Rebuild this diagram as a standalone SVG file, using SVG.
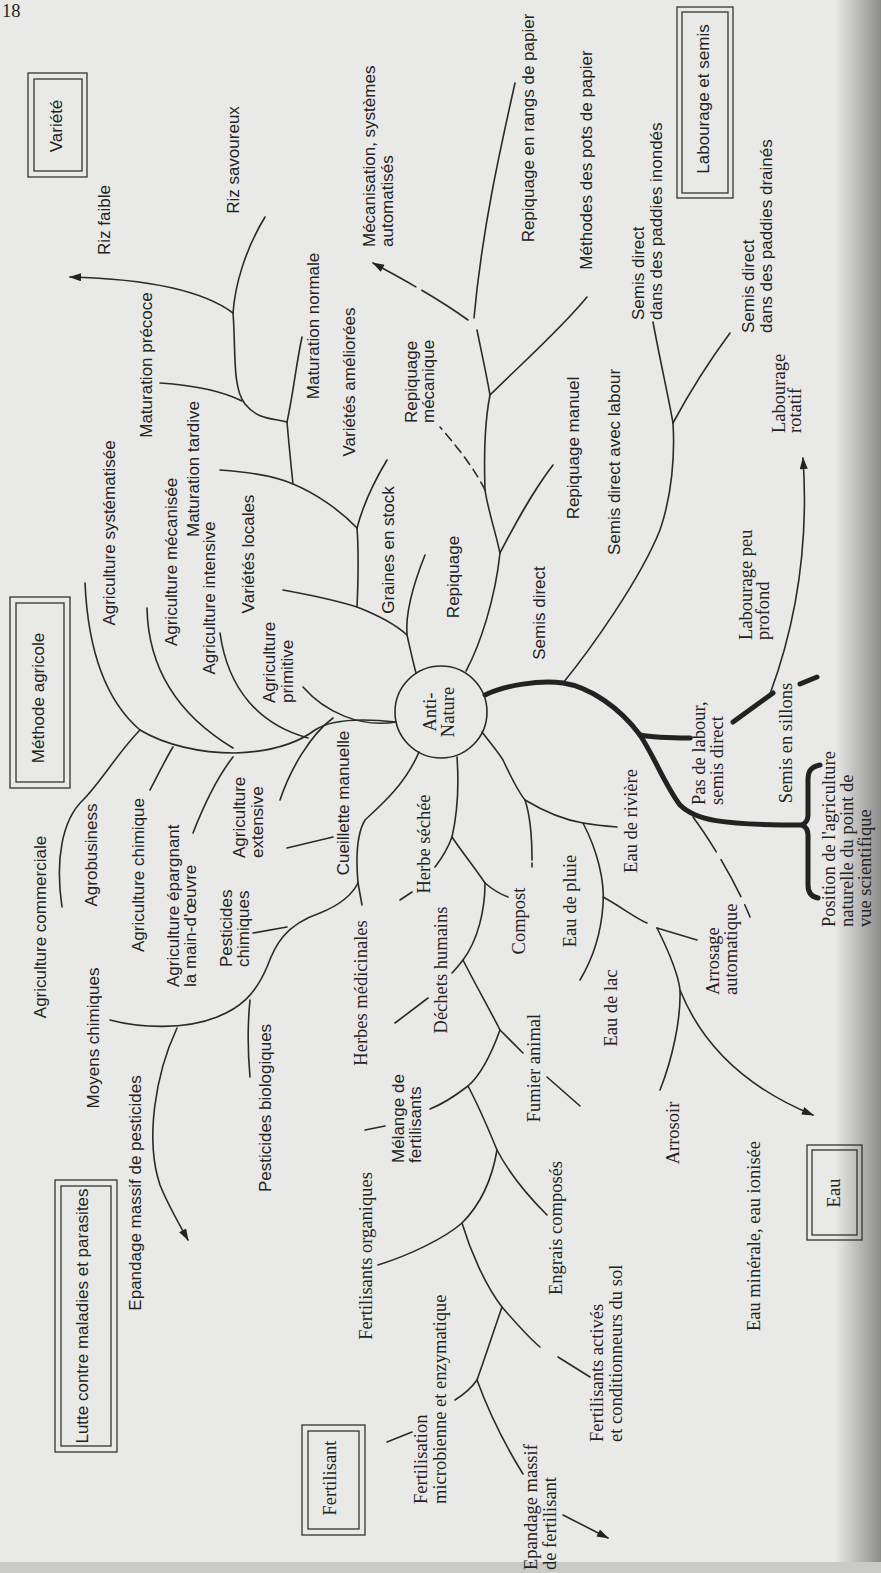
<svg xmlns="http://www.w3.org/2000/svg" width="881" height="1573" viewBox="0 0 881 1573">
<defs>
<style>
.s{font-family:"Liberation Sans",Arial,sans-serif;font-size:17px;fill:#222}
.r{font-family:"Liberation Serif","Times New Roman",serif;font-size:18.5px;fill:#222}
.m{text-anchor:middle}
.ln{fill:none;stroke:#2a2a2a;stroke-width:1.6;stroke-linecap:round}
.th{fill:none;stroke:#222;stroke-width:5;stroke-linecap:round;stroke-linejoin:round}
.bx{fill:none;stroke:#333;stroke-width:1.3}
.d1{stroke-dasharray:55 7}
.d2{stroke-dasharray:9 6}
.d3{stroke-dasharray:42 9}
</style>
<marker id="ah" viewBox="0 0 12 8" refX="11" refY="4" markerWidth="13" markerHeight="8" markerUnits="userSpaceOnUse" orient="auto">
<path d="M0,0 L12,4 L0,8 z" fill="#222"/>
</marker>
<linearGradient id="edge" x1="0" y1="0" x2="1" y2="0">
<stop offset="0" stop-color="#000" stop-opacity="0"/>
<stop offset="1" stop-color="#000" stop-opacity="0.4"/>
</linearGradient>
</defs>
<rect width="881" height="1573" fill="#e9e9e7"/>
<rect x="835" y="0" width="46" height="1573" fill="url(#edge)"/>
<rect x="0" y="1562" width="881" height="11" fill="#cacac8"/>
<text class="r" x="2" y="17" font-size="22">18</text>

<g id="connectors">
<path class="ln" d="M233,313 C205,292 150,279 70,277" marker-end="url(#ah)"/>
<path class="ln" d="M265,217 C245,250 235,285 233,313"/>
<path class="ln" d="M233,313 C236,350 232,388 245,404 S272,418 287,422"/>
<path class="ln" d="M160,383 C190,385 220,390 242,401"/>
<path class="ln" d="M302,337 C296,365 293,395 287,422"/>
<path class="ln" d="M287,422 C289,445 291,465 293,484"/>
<path class="ln" d="M220,470 C250,472 275,476 293,484 C315,493 340,510 357,528"/>
<path class="ln" d="M387,460 C375,480 363,505 357,528"/>
<path class="ln" d="M357,528 C359,555 358,585 357,607"/>
<path class="ln" d="M283,590 C305,594 335,600 357,607 C375,614 395,624 407,635"/>
<path class="ln" d="M407,635 C410,648 413,662 416,673"/>
<path class="ln" d="M425,555 C415,580 405,610 407,635"/>
<path class="ln" d="M85,583 C88,650 105,700 140,730"/>
<path class="ln" d="M147,608 C148,660 170,710 233,748"/>
<path class="ln" d="M220,633 C228,690 260,725 308,738"/>
<path class="ln" d="M303,687 C325,712 360,728 396,722"/>
<path class="ln" d="M140,730 C165,745 200,753 235,753 C265,752 295,745 315,730 C330,720 360,718 396,722"/>
<path class="ln" d="M62,907 C55,860 62,820 83,800 C100,783 120,750 140,730"/>
<path class="ln" d="M150,790 C158,775 165,760 173,747"/>
<path class="ln" d="M193,833 C200,815 215,780 233,757"/>
<path class="ln" d="M280,800 C290,770 310,735 333,718"/>
<path class="ln" d="M287,848 L333,837"/>
<path class="ln" d="M110,1020 C140,1028 185,1030 217,1017 C240,1008 255,995 267,967 C275,945 285,925 320,913 C340,905 352,895 358,883"/>
<path class="ln" d="M177,1028 C155,1075 145,1140 160,1185 C168,1205 178,1222 188,1240" marker-end="url(#ah)"/>
<path class="ln" d="M250,1000 C247,1030 248,1055 250,1077"/>
<path class="ln" d="M253,933 L287,927"/>
<path class="ln" d="M358,883 C356,860 356,835 365,820 C380,806 405,785 419,752"/>
<path class="ln" d="M358,883 L362,905"/>
<path class="ln" d="M400,900 L412,892"/>
<path class="ln" d="M395,1023 L428,998"/>
<path class="ln" d="M457,757 C459,785 457,815 452,837"/>
<path class="ln" d="M452,837 C448,848 442,858 435,867"/>
<path class="ln" d="M452,837 C462,852 475,868 485,883 C493,890 500,894 508,897"/>
<path class="ln" d="M485,883 C485,910 478,940 463,960 C474,982 490,1010 500,1030"/>
<path class="ln" d="M463,960 C459,965 456,969 452,973"/>
<path class="ln" d="M500,1030 C510,1040 517,1047 523,1053"/>
<path class="ln" d="M500,1030 C492,1052 482,1074 468,1086 C455,1096 443,1104 430,1109"/>
<path class="ln" d="M468,1086 C478,1105 488,1128 497,1150 C510,1175 530,1198 547,1215"/>
<path class="ln" d="M497,1150 C492,1180 480,1205 462,1223 C445,1238 410,1255 378,1265"/>
<path class="ln" d="M462,1223 C470,1250 485,1285 502,1307 C515,1322 528,1337 540,1347"/>
<path class="ln" d="M558,1357 L590,1377"/>
<path class="ln" d="M502,1307 C494,1330 486,1355 477,1380 C470,1390 463,1395 455,1400"/>
<path class="ln" d="M477,1380 C488,1410 505,1445 523,1474"/>
<path class="ln" d="M563,1515 L608,1538" marker-end="url(#ah)"/>
<path class="ln" d="M365,1130 L385,1126"/>
<path class="ln" d="M387,1442 L412,1432"/>
<path class="ln" d="M547,1077 L580,1106"/>
<path class="ln" d="M482,732 C492,745 498,752 503,760 C510,775 517,790 525,800 C545,812 565,820 583,823 C595,825 605,826 617,827"/>
<path class="ln" d="M525,800 C530,815 532,835 532,860"/>
<path class="ln" d="M532,863 L532,867"/>
<path class="ln" d="M583,823 C597,850 605,880 603,905 C601,935 592,960 580,980"/>
<path class="ln" d="M603,897 C620,906 635,918 647,923"/>
<path class="ln" d="M657,928 L697,940"/>
<path class="ln" d="M657,928 C668,950 678,972 680,990 C681,1020 672,1060 660,1090"/>
<path class="ln" d="M680,990 C700,1040 740,1085 813,1115" marker-end="url(#ah)"/>
<path class="ln d3" d="M693,817 C710,840 735,880 750,917"/>
<path class="th" d="M485,695 C505,685 540,680 563,683 C590,687 620,708 640,735 C655,758 665,785 680,805 C695,820 720,825 803,825"/>
<path class="th" d="M640,735 C655,738 670,738 690,738"/>
<path class="th" stroke-width="4" d="M820,765 C810,767 808,772 808,780 L808,815 C808,820 806,823 802,825 C806,827 808,830 808,835 L808,885 C808,893 812,897 818,898"/>
<path class="th" d="M733,722 L773,693"/>
<path class="th" d="M800,684 L817,677"/>
<path class="ln" d="M770,694 C790,640 810,560 803,458" marker-end="url(#ah)"/>
<path class="ln" d="M563,683 C590,650 640,580 660,530 C672,495 675,455 673,423"/>
<path class="ln" d="M673,423 C668,395 660,360 653,322"/>
<path class="ln" d="M673,423 C688,395 710,360 730,333"/>
<path class="ln" d="M466,671 C480,645 495,600 500,553"/>
<path class="ln" d="M500,553 C512,530 530,495 553,465"/>
<path class="ln" d="M500,553 C495,530 488,510 485,490"/>
<path class="ln d2" d="M485,490 C475,470 460,450 440,427"/>
<path class="ln" d="M485,490 C484,460 484,425 490,395"/>
<path class="ln" d="M490,395 C520,365 560,330 587,297"/>
<path class="ln" d="M477,330 C481,350 486,372 490,395"/>
<path class="ln" d="M515,83 C500,150 482,230 474,318"/>
<path class="ln d1" d="M468,320 C440,300 410,283 373,263" marker-end="url(#ah)"/>
</g>

<g id="center">
<circle cx="441" cy="712" r="46" fill="none" stroke="#2a2a2a" stroke-width="1.6"/>
<text class="r m" transform="translate(436,712) rotate(-90)"><tspan x="0" y="0">Anti-</tspan><tspan x="0" y="18">Nature</tspan></text>
</g>

<g id="box-variete">
<rect class="bx" x="28" y="73" width="59" height="104"/>
<rect class="bx" x="34" y="79" width="48" height="92"/>
<text class="s m" transform="translate(62,126) rotate(-90)">Variété</text>
</g>
<g id="box-labourage">
<rect class="bx" x="677" y="7" width="56" height="191"/>
<rect class="bx" x="682" y="12" width="46" height="181"/>
<text class="s m" transform="translate(709,99) rotate(-90)">Labourage et semis</text>
</g>
<g id="box-methode">
<rect class="bx" x="10" y="597" width="60" height="191"/>
<rect class="bx" x="16" y="603" width="48" height="179"/>
<text class="s m" transform="translate(44,698) rotate(-90)">Méthode agricole</text>
</g>
<g id="box-lutte">
<rect class="bx" x="55" y="1180" width="62" height="272"/>
<rect class="bx" x="61" y="1186" width="50" height="260"/>
<text class="s m" transform="translate(88,1316) rotate(-90)">Lutte contre maladies et parasites</text>
</g>
<g id="box-fertilisant">
<rect class="bx" x="302" y="1425" width="63" height="110"/>
<rect class="bx" x="308" y="1431" width="51" height="98"/>
<text class="r m" transform="translate(336,1478) rotate(-90)">Fertilisant</text>
</g>
<g id="box-eau">
<rect class="bx" x="807" y="1145" width="55" height="95"/>
<rect class="bx" x="812" y="1150" width="45" height="85"/>
<text class="r m" transform="translate(840,1193) rotate(-90)">Eau</text>
</g>

<g id="n-riz-faible"><text class="s m" transform="translate(110,220) rotate(-90)">Riz faible</text></g>
<g id="n-riz-savoureux"><text class="s m" transform="translate(239,160) rotate(-90)">Riz savoureux</text></g>
<g id="n-mecanisation"><text class="s" transform="translate(375,247) rotate(-90)"><tspan x="0" y="0">Mécanisation, systèmes</tspan><tspan x="0" y="18">automatisés</tspan></text></g>
<g id="n-mat-precoce"><text class="s m" transform="translate(152,365) rotate(-90)">Maturation précoce</text></g>
<g id="n-mat-normale"><text class="s m" transform="translate(319,326) rotate(-90)">Maturation normale</text></g>
<g id="n-var-amel"><text class="s m" transform="translate(355,382) rotate(-90)">Variétés améliorées</text></g>
<g id="n-rep-meca"><text class="s" transform="translate(417,423) rotate(-90)"><tspan x="0" y="0">Repiquage</tspan><tspan x="0" y="17">mécanique</tspan></text></g>
<g id="n-rep-rangs"><text class="s m" transform="translate(534,128) rotate(-90)">Repiquage en rangs de papier</text></g>
<g id="n-pots"><text class="s m" transform="translate(592,160) rotate(-90)">Méthodes des pots de papier</text></g>
<g id="n-inondes"><text class="s" transform="translate(644,320) rotate(-90)"><tspan x="0" y="0">Semis direct</tspan><tspan x="0" y="18">dans des paddies inondés</tspan></text></g>
<g id="n-draines"><text class="s" transform="translate(754,333) rotate(-90)"><tspan x="0" y="0">Semis direct</tspan><tspan x="0" y="18">dans des paddies drainés</tspan></text></g>
<g id="n-rotatif"><text class="r" transform="translate(785,433) rotate(-90)"><tspan x="0" y="0">Labourage</tspan><tspan x="0" y="16">rotatif</tspan></text></g>
<g id="n-peu-profond"><text class="r" transform="translate(752,640) rotate(-90)"><tspan x="0" y="0">Labourage peu</tspan><tspan x="0" y="17">profond</tspan></text></g>
<g id="n-pas-labour"><text class="r" transform="translate(705,805) rotate(-90)"><tspan x="0" y="0">Pas de labour,</tspan><tspan x="0" y="18">semis direct</tspan></text></g>
<g id="n-sillons"><text class="r m" transform="translate(792,743) rotate(-90)">Semis en sillons</text></g>
<g id="n-position"><text class="r" transform="translate(835,927) rotate(-90)"><tspan x="0" y="0">Position de l'agriculture</tspan><tspan x="0" y="18">naturelle du point de</tspan><tspan x="0" y="36">vue scientifique</tspan></text></g>
<g id="n-repiquage"><text class="s m" transform="translate(459,577) rotate(-90)">Repiquage</text></g>
<g id="n-semis-direct"><text class="s m" transform="translate(545,613) rotate(-90)">Semis direct</text></g>
<g id="n-rep-manuel"><text class="s m" transform="translate(579,448) rotate(-90)">Repiquage manuel</text></g>
<g id="n-avec-labour"><text class="s m" transform="translate(620,462) rotate(-90)">Semis direct avec labour</text></g>
<g id="n-agri-syst"><text class="s m" transform="translate(115,533) rotate(-90)">Agriculture systématisée</text></g>
<g id="n-agri-meca"><text class="s m" transform="translate(177,562) rotate(-90)">Agriculture mécanisée</text></g>
<g id="n-mat-tardive"><text class="s m" transform="translate(199,469) rotate(-90)">Maturation tardive</text></g>
<g id="n-agri-int"><text class="s m" transform="translate(215,598) rotate(-90)">Agriculture intensive</text></g>
<g id="n-var-loc"><text class="s m" transform="translate(254,554) rotate(-90)">Variétés locales</text></g>
<g id="n-agri-prim"><text class="s" transform="translate(275,703) rotate(-90)"><tspan x="0" y="0">Agriculture</tspan><tspan x="0" y="18">primitive</tspan></text></g>
<g id="n-graines"><text class="s m" transform="translate(394,550) rotate(-90)">Graines en stock</text></g>
<g id="n-cueillette"><text class="s m" transform="translate(349,803) rotate(-90)">Cueillette manuelle</text></g>
<g id="n-agri-ext"><text class="s" transform="translate(245,858) rotate(-90)"><tspan x="0" y="0">Agriculture</tspan><tspan x="0" y="18">extensive</tspan></text></g>
<g id="n-agri-comm"><text class="s m" transform="translate(46,927) rotate(-90)">Agriculture commerciale</text></g>
<g id="n-agrobusiness"><text class="s m" transform="translate(97,855) rotate(-90)">Agrobusiness</text></g>
<g id="n-agri-chim"><text class="s m" transform="translate(144,875) rotate(-90)">Agriculture chimique</text></g>
<g id="n-agri-epar"><text class="s" transform="translate(179,987) rotate(-90)"><tspan x="0" y="0">Agriculture épargnant</tspan><tspan x="0" y="17">la main-d'œuvre</tspan></text></g>
<g id="n-pest-chim"><text class="s" transform="translate(232,967) rotate(-90)"><tspan x="0" y="0">Pesticides</tspan><tspan x="0" y="17">chimiques</tspan></text></g>
<g id="n-moyens"><text class="s m" transform="translate(99,1038) rotate(-90)">Moyens chimiques</text></g>
<g id="n-epandage-pest"><text class="s m" transform="translate(141,1193) rotate(-90)">Epandage massif de pesticides</text></g>
<g id="n-pest-bio"><text class="s m" transform="translate(271,1108) rotate(-90)">Pesticides biologiques</text></g>
<g id="n-melange"><text class="s" transform="translate(404,1163) rotate(-90)"><tspan x="0" y="0">Mélange de</tspan><tspan x="0" y="17">fertilisants</tspan></text></g>
<g id="n-herbes-med"><text class="r m" transform="translate(367,993) rotate(-90)">Herbes médicinales</text></g>
<g id="n-herbe-sechee"><text class="r m" transform="translate(430,844) rotate(-90)">Herbe séchée</text></g>
<g id="n-dechets"><text class="r m" transform="translate(447,970) rotate(-90)">Déchets humains</text></g>
<g id="n-compost"><text class="r m" transform="translate(525,921) rotate(-90)">Compost</text></g>
<g id="n-fumier"><text class="r m" transform="translate(540,1068) rotate(-90)">Fumier animal</text></g>
<g id="n-riviere"><text class="r m" transform="translate(637,821) rotate(-90)">Eau de rivière</text></g>
<g id="n-pluie"><text class="r m" transform="translate(576,901) rotate(-90)">Eau de pluie</text></g>
<g id="n-lac"><text class="r m" transform="translate(617,1008) rotate(-90)">Eau de lac</text></g>
<g id="n-arrosage"><text class="r" transform="translate(719,995) rotate(-90)"><tspan x="0" y="0">Arrosage</tspan><tspan x="0" y="18">automatique</tspan></text></g>
<g id="n-arrosoir"><text class="r m" transform="translate(679,1133) rotate(-90)">Arrosoir</text></g>
<g id="n-minerale"><text class="r m" transform="translate(760,1236) rotate(-90)">Eau minérale, eau ionisée</text></g>
<g id="n-fert-org"><text class="r m" transform="translate(372,1256) rotate(-90)">Fertilisants organiques</text></g>
<g id="n-engrais"><text class="r m" transform="translate(562,1228) rotate(-90)">Engrais composés</text></g>
<g id="n-fert-act"><text class="r" transform="translate(603,1442) rotate(-90)"><tspan x="0" y="0">Fertilisants activés</tspan><tspan x="0" y="19">et conditionneurs du sol</tspan></text></g>
<g id="n-fertilisation"><text class="r" transform="translate(427,1504) rotate(-90)"><tspan x="0" y="0">Fertilisation</tspan><tspan x="0" y="19">microbienne et enzymatique</tspan></text></g>
<g id="n-epandage-fert"><text class="r" transform="translate(537,1570) rotate(-90)"><tspan x="0" y="0">Epandage massif</tspan><tspan x="0" y="19">de fertilisant</tspan></text></g>
</svg>
